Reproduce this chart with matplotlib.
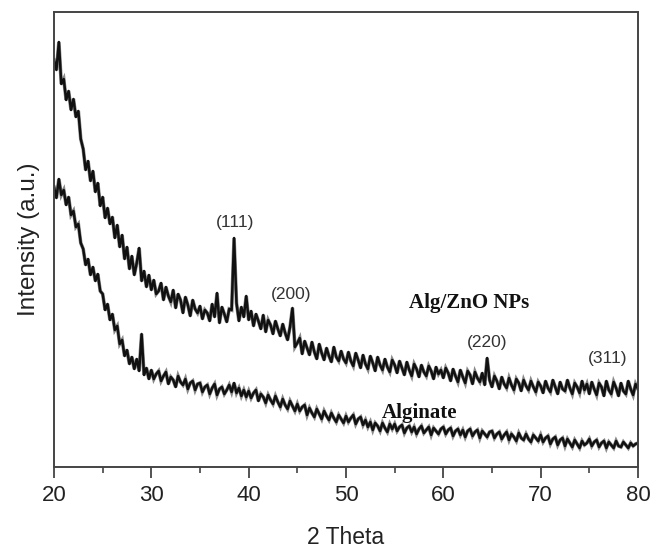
import numpy as np
import matplotlib
matplotlib.use("Agg")
import matplotlib.pyplot as plt
from matplotlib.ticker import MultipleLocator

# 2-theta grid (degrees), 0.25 step from 20 to 80
two_theta = np.arange(20.0, 80.0001, 0.25)

# Alg/ZnO NPs intensity (a.u.)
alg_zno = [
    400, 390, 418, 376, 381, 360, 369, 350, 361, 343, 349, 321, 311, 290, 299, 279, 289, 268, 277, 254,
    263, 242, 252, 236, 243, 222, 235, 213, 225, 201, 213, 191, 204, 185, 197, 212, 179, 189, 173, 185,
    170, 180, 166, 169, 177, 160, 173, 164, 158, 170, 152, 166, 160, 147, 163, 155, 144, 160, 151, 147,
    154, 141, 150, 147, 139, 156, 143, 167, 137, 153, 146, 138, 151, 150, 222, 157, 139, 153, 143, 164,
    140, 149, 134, 146, 139, 131, 145, 128, 140, 135, 126, 139, 131, 124, 136, 127, 120, 133, 152, 113,
    117, 122, 106, 119, 112, 105, 118, 108, 101, 116, 107, 100, 112, 104, 98, 113, 103, 99, 109, 101,
    97, 108, 99, 94, 107, 100, 92, 105, 96, 91, 104, 97, 89, 103, 95, 90, 101, 93, 88, 100,
    95, 87, 99, 92, 85, 98, 90, 84, 96, 91, 83, 95, 88, 84, 94, 89, 81, 93, 86, 90,
    82, 92, 87, 79, 91, 84, 78, 90, 83, 77, 89, 85, 76, 88, 82, 78, 87, 75, 102, 80,
    73, 84, 79, 71, 83, 76, 72, 82, 75, 70, 81, 77, 69, 80, 74, 70, 79, 73, 68, 78,
    74, 67, 79, 72, 68, 80, 73, 66, 78, 71, 69, 80, 72, 66, 77, 73, 67, 79, 70, 76,
    66, 78, 71, 65, 77, 73, 64, 79, 70, 66, 78, 72, 64, 77, 69, 66, 79, 71, 65, 76,
    71,
]

# Alginate intensity (a.u.)
alginate = [
    273, 262, 281, 265, 270, 255, 263, 245, 249, 233, 236, 217, 211, 195, 201, 185, 193, 179, 186, 169,
    166, 150, 156, 140, 146, 130, 134, 116, 120, 104, 110, 96, 103, 91, 101, 89, 126, 85, 92, 81,
    90, 81, 86, 89, 79, 84, 88, 76, 83, 80, 73, 84, 78, 75, 81, 71, 77, 79, 70, 76,
    77, 68, 73, 75, 66, 72, 76, 65, 71, 73, 66, 70, 75, 68, 77, 67, 72, 64, 70, 63,
    69, 62, 67, 70, 59, 66, 63, 57, 65, 60, 56, 64, 58, 53, 61, 55, 51, 59, 54, 49,
    56, 49, 53, 55, 45, 52, 47, 43, 51, 46, 41, 49, 44, 40, 47, 42, 38, 45, 41, 37,
    44, 38, 42, 45, 36, 41, 43, 35, 40, 33, 38, 30, 37, 34, 29, 37, 32, 28, 36, 31,
    36, 29, 33, 35, 27, 32, 34, 28, 33, 26, 31, 34, 27, 30, 33, 25, 32, 29, 26, 31,
    33, 26, 30, 32, 24, 29, 31, 25, 30, 23, 29, 31, 24, 28, 30, 22, 29, 26, 23, 28,
    29, 22, 26, 28, 21, 25, 28, 20, 26, 23, 19, 27, 22, 20, 26, 21, 18, 25, 22, 19,
    25, 18, 22, 24, 16, 21, 23, 15, 20, 22, 14, 21, 17, 13, 20, 16, 12, 19, 15, 17,
    21, 14, 18, 20, 13, 17, 19, 12, 18, 15, 12, 19, 14, 13, 18, 15, 12, 17, 14, 16,
    17,
]

# Peak labels (hkl) and positions
peak_labels = ["(111)", "(200)", "(220)", "(311)"]
peak_x = [38.6, 44.35, 64.5, 76.9]
peak_y = [238, 165, 118, 102]

series_labels = ["Alg/ZnO NPs", "Alginate"]
series_label_x = [62.7, 57.6]
series_label_y = [157, 47]

x_ticks = [20, 30, 40, 50, 60, 70, 80]

plt.rcParams["font.family"] = ["Liberation Sans", "DejaVu Sans"]

fig = plt.figure(figsize=(6.51, 5.51), dpi=100)
ax = fig.add_axes([54 / 651, 1 - 467 / 551, (638 - 54) / 651, (467 - 12) / 551])

for series in (alg_zno, alginate):
    ax.plot(two_theta, series, color="#8a8a8a", lw=2.6, solid_joinstyle="miter")
    ax.plot(two_theta, series, color="#111111", lw=1.8)

ax.set_xlim(20, 80)
ax.set_ylim(-7, 448)
ax.set_xticks(x_ticks)
ax.xaxis.set_minor_locator(MultipleLocator(5))
ax.set_yticks([])

for s in ax.spines.values():
    s.set_linewidth(1.4)
    s.set_color("#444444")

ax.tick_params(axis="x", which="major", direction="out", length=8, width=1.3,
               color="#444444", labelsize=16, labelcolor="#222222", pad=5)
ax.tick_params(axis="x", which="minor", direction="out", length=4, width=1.2,
               color="#444444")

ax.set_xlabel("2 Theta", fontsize=16.5, color="#222222", labelpad=14)
ax.set_ylabel("Intensity (a.u.)", fontsize=17.5, color="#222222", labelpad=10)

for lab, x, y in zip(peak_labels, peak_x, peak_y):
    ax.text(x, y, lab, ha="center", va="center", fontsize=12.5, color="#333333")

for lab, x, y in zip(series_labels, series_label_x, series_label_y):
    ax.text(x, y, lab, ha="center", va="center", fontsize=15, fontweight="bold",
            family=["Liberation Serif", "DejaVu Serif"], color="#111111")

fig.savefig("out.png", dpi=100)
